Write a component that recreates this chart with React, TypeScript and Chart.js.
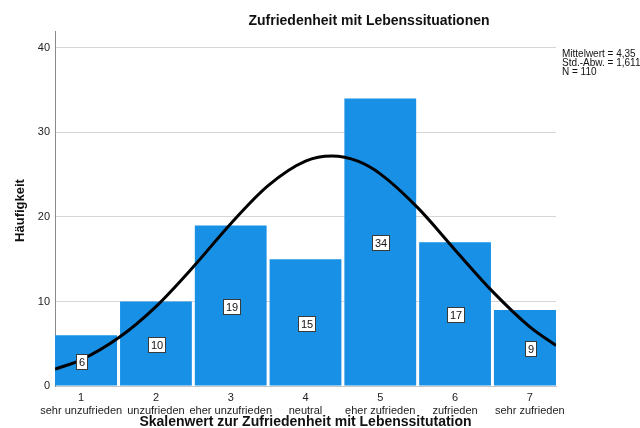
import React, { useEffect, useRef } from "react";
import { Chart, registerables } from "chart.js";

Chart.register(...registerables);

const chartTitle = "Zufriedenheit mit Lebenssituationen";
const xAxisTitle = "Skalenwert zur Zufriedenheit mit Lebenssitutation";
const yAxisTitle = "Häufigkeit";
const statsLines = ["Mittelwert = 4,35", "Std.-Abw. = 1,611", "N = 110"];

const categoryValues = [1, 2, 3, 4, 5, 6, 7];
const categoryLabels = [
  "sehr unzufrieden",
  "unzufrieden",
  "eher unzufrieden",
  "neutral",
  "eher zufrieden",
  "zufrieden",
  "sehr zufrieden",
];
const counts = [6, 10, 19, 15, 34, 17, 9];

// normal curve
const curveX = [0.65, 1, 1.5, 2, 2.5, 3, 3.5, 4, 4.35, 4.7, 5, 5.5, 6, 6.5, 7, 7.35];
const curveY = [2.0, 3.1, 5.7, 9.4, 14.1, 19.2, 23.7, 26.6, 27.2, 26.6, 25.1, 21.1, 16.1, 11.2, 7.0, 4.8];

const yTicks = [0, 10, 20, 30, 40];

const FONT = "'Liberation Sans', Arial, sans-serif";

export default function App() {
  const ref = useRef<HTMLCanvasElement | null>(null);

  useEffect(() => {
    if (!ref.current) return;

    const textPlugin = {
      id: "texts",
      afterDatasetsDraw(chart: any) {
        const ctx = chart.ctx;
        const yScale = chart.scales.y;
        const meta = chart.getDatasetMeta(0);
        ctx.save();
        ctx.font = `11px ${FONT}`;
        ctx.textAlign = "center";
        ctx.textBaseline = "middle";
        meta.data.forEach((el: any, i: number) => {
          const v = counts[i];
          const cx = Math.round(el.x);
          const cy = Math.round(yScale.getPixelForValue(v / 2));
          const w = Math.round(ctx.measureText(String(v)).width) + 5;
          const h = 15;
          const left = Math.round(cx - w / 2);
          const top = Math.round(cy - h / 2);
          ctx.fillStyle = "#ffffff";
          ctx.fillRect(left, top, w, h);
          ctx.strokeStyle = "#3a3a3a";
          ctx.lineWidth = 1;
          ctx.strokeRect(left + 0.5, top + 0.5, w, h);
          ctx.fillStyle = "#111";
          ctx.fillText(String(v), left + w / 2 + 0.5, top + h / 2 + 1);
        });
        ctx.restore();
      },
      afterDraw(chart: any) {
        const ctx = chart.ctx;
        const area = chart.chartArea;
        ctx.save();
        ctx.fillStyle = "#111";
        ctx.textBaseline = "middle";
        // title
        ctx.font = `bold 14px ${FONT}`;
        ctx.textAlign = "center";
        ctx.fillText(chartTitle, 369, 21);
        // x axis title
        ctx.fillText(xAxisTitle, (area.left + area.right) / 2, 422);
        // y axis title
        ctx.save();
        ctx.translate(20, (area.top + area.bottom) / 2 + 2);
        ctx.rotate(-Math.PI / 2);
        ctx.font = `bold 13px ${FONT}`;
        ctx.fillText(yAxisTitle, 0, 0);
        ctx.restore();
        // stats
        ctx.font = `10px ${FONT}`;
        ctx.textAlign = "left";
        statsLines.forEach((s, i) => ctx.fillText(s, 562, 54 + i * 9));
        ctx.restore();
      },
    };

    const chart = new Chart(ref.current, {
      type: "bar",
      data: {
        datasets: [
          {
            type: "bar",
            data: categoryValues.map((x, i) => ({ x, y: counts[i] })),
            backgroundColor: "#1790e6",
            borderWidth: 0,
            barPercentage: 0.96,
            categoryPercentage: 1,
            clip: 0,
            order: 1,
          } as any,
          {
            type: "line",
            data: curveX.map((x, i) => ({ x, y: curveY[i] })),
            borderColor: "#000000",
            borderWidth: 3,
            pointRadius: 0,
            cubicInterpolationMode: "monotone",
            fill: false,
            order: 0,
          } as any,
        ],
      },
      options: {
        responsive: false,
        animation: false,
        devicePixelRatio: 1,
        layout: { padding: { top: 31, right: 84, left: 0, bottom: 0 } },
        plugins: {
          legend: { display: false },
          tooltip: { enabled: false },
          title: { display: false },
        },
        scales: {
          x: {
            type: "linear",
            min: 0.65,
            max: 7.35,
            offset: false,
            grid: { display: false, drawTicks: false },
            border: { display: true, color: "#c8c8c8", width: 1 },
            afterBuildTicks: (scale: any) => {
              scale.ticks = categoryValues.map((v) => ({ value: v }));
            },
            afterFit: (scale: any) => {
              scale.height = 42;
            },
            ticks: {
              autoSkip: false,
              maxRotation: 0,
              padding: 5,
              color: "#222",
              font: { family: FONT, size: 11, lineHeight: 1.2 },
              callback: (value: any) => {
                const idx = categoryValues.indexOf(Number(value));
                return idx >= 0 ? [String(value), categoryLabels[idx]] : "";
              },
            },
          },
          y: {
            type: "linear",
            min: 0,
            max: 42,
            grid: { color: "#d6d6d6", lineWidth: 1, drawTicks: false },
            border: { display: true, color: "#8a8a8a", width: 1 },
            afterBuildTicks: (scale: any) => {
              scale.ticks = yTicks.map((v) => ({ value: v }));
            },
            afterFit: (scale: any) => {
              scale.width = 55;
            },
            ticks: {
              padding: 5,
              color: "#222",
              font: { family: FONT, size: 11 },
            },
          },
        },
      } as any,
      plugins: [textPlugin],
    });

    return () => chart.destroy();
  }, []);

  return (
    <div style={{ position: "fixed", left: 0, top: 0, width: 640, height: 428, background: "#fff" }}>
      <canvas ref={ref} width={640} height={428} style={{ width: 640, height: 428, display: "block" }} />
    </div>
  );
}
